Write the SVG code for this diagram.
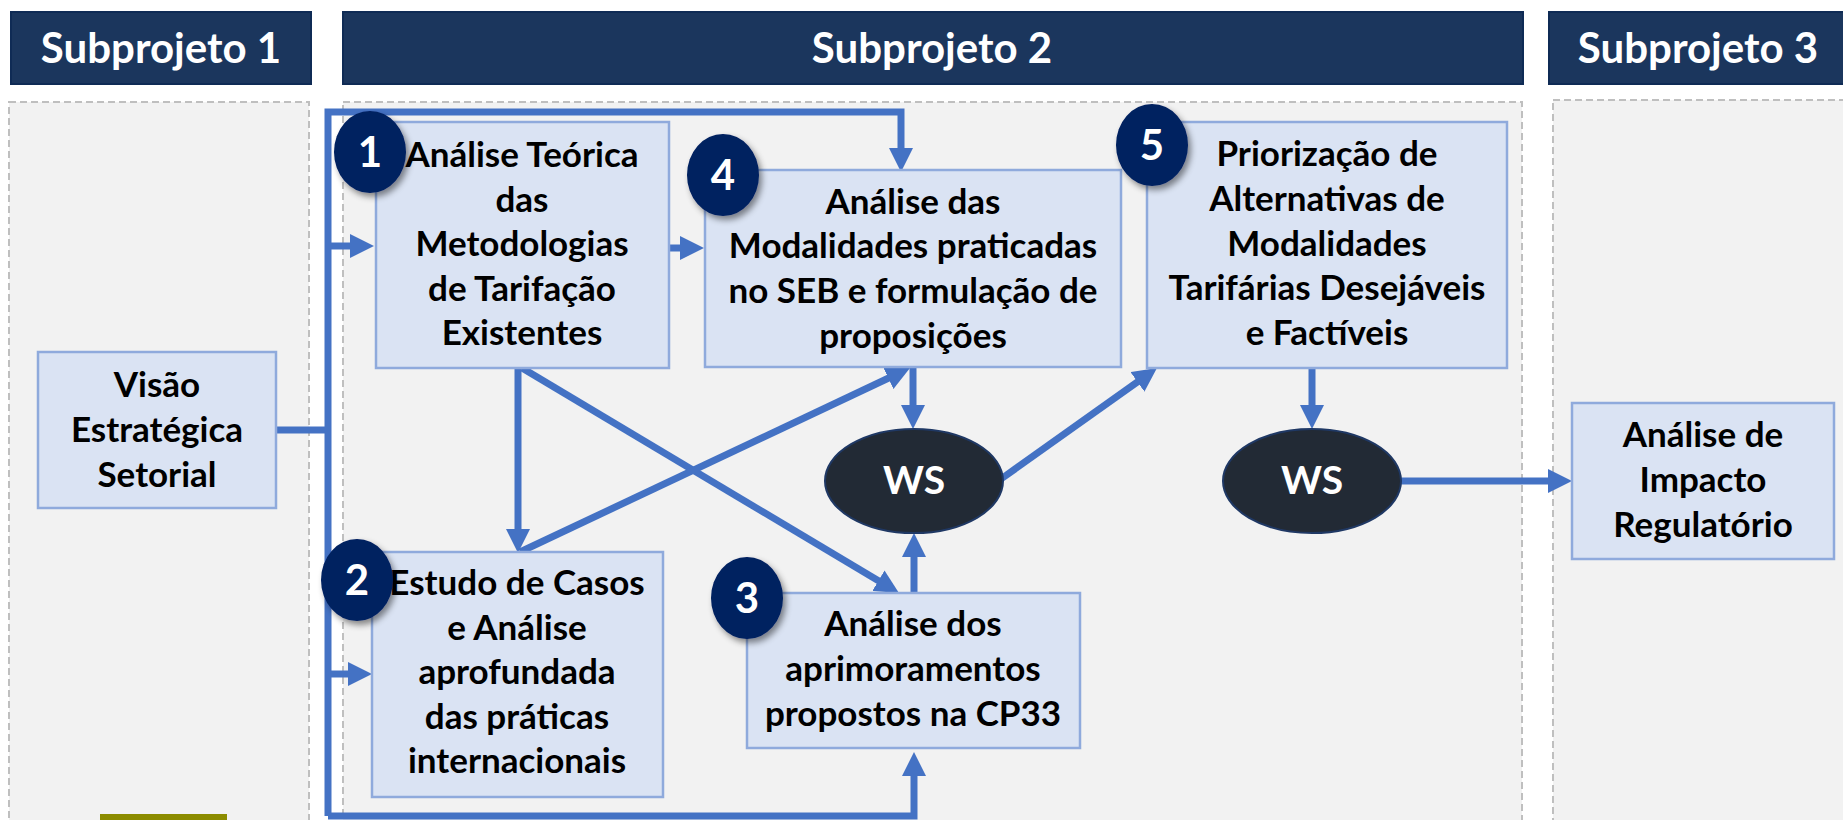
<svg xmlns="http://www.w3.org/2000/svg" width="1843" height="820" viewBox="0 0 1843 820">
<style>
.hdr{fill:#1b365d;stroke:#0f2b55;stroke-width:2}
.hdrt{font-family:Lato,"Liberation Sans",sans-serif;font-weight:bold;font-size:42px;fill:#fff;text-anchor:middle}
.pnl{fill:#f2f2f2;stroke:#bfbfbf;stroke-width:2;stroke-dasharray:7 4}
.box{fill:#dae3f3;stroke:#8faadc;stroke-width:2.5}
.bt{font-family:Lato,"Liberation Sans",sans-serif;font-weight:bold;font-size:35px;fill:#000;text-anchor:middle}
.ws{fill:#222a35;stroke:#1f3864;stroke-width:2}
.wst{font-family:Lato,"Liberation Sans",sans-serif;font-weight:bold;font-size:39px;fill:#fff;text-anchor:middle}
.badge{fill:#002060;filter:url(#sh)}
.bn{font-family:Lato,"Liberation Sans",sans-serif;font-weight:bold;font-size:42px;fill:#fff;text-anchor:middle}
.c{fill:none;stroke:#4472c4;stroke-width:7}
.ca{fill:none;stroke:#4472c4;stroke-width:7;marker-end:url(#arr)}
</style>
<defs>
<marker id="arr" markerUnits="userSpaceOnUse" markerWidth="24" markerHeight="24" refX="4" refY="12" orient="auto"><path d="M0,0 L24,12 L0,24 z" fill="#4472c4"/></marker>
<filter id="sh" x="-30%" y="-30%" width="170%" height="170%"><feDropShadow dx="3" dy="4" stdDeviation="3" flood-color="#000" flood-opacity="0.45"/></filter>
</defs>
<rect width="1843" height="820" fill="#fff"/>
<g id="headers">
<rect class="hdr" x="11" y="12" width="300" height="72"/>
<text class="hdrt" x="161" y="63">Subprojeto 1</text>
<rect class="hdr" x="343" y="12" width="1180" height="72"/>
<text class="hdrt" x="932" y="63">Subprojeto 2</text>
<rect class="hdr" x="1549" y="12" width="300" height="72"/>
<text class="hdrt" x="1698" y="63">Subprojeto 3</text>
</g>
<g id="panels">
<rect class="pnl" x="9" y="102" width="300" height="740"/>
<rect class="pnl" x="343" y="102" width="1179" height="740"/>
<rect class="pnl" x="1553" y="100" width="310" height="740"/>
<rect x="100" y="814" width="127" height="10" fill="#8c8c00"/>
</g>
<g id="connectors">
<path class="c" d="M276 430 H331"/>
<path class="ca" d="M328 816 V112 H901 V152"/>
<path class="ca" d="M328 816 H914 V772"/>
<path class="ca" d="M328 246 H354"/>
<path class="ca" d="M328 674 H352"/>
<path class="ca" d="M669 248 H684"/>
<path class="ca" d="M518 368 V533"/>
<path class="ca" d="M522 368 L881.8 582.8"/>
<path class="ca" d="M520 552 L891.9 376.5"/>
<path class="ca" d="M913 368 V409"/>
<path class="ca" d="M914 593 V553"/>
<path class="ca" d="M1001 479 L1140.7 379.6"/>
<path class="ca" d="M1312 368 V409"/>
<path class="ca" d="M1401 481 H1552"/>
</g>
<g id="visao">
<rect class="box" x="38" y="352" width="238" height="156"/>
<text class="bt" x="157" y="397">Visão</text>
<text class="bt" x="157" y="442">Estratégica</text>
<text class="bt" x="157" y="487">Setorial</text>
</g>
<g id="node1">
<rect class="box" x="376" y="122" width="293" height="246"/>
<text class="bt" x="522" y="167">Análise Teórica</text>
<text class="bt" x="522" y="211.6">das</text>
<text class="bt" x="522" y="256.2">Metodologias</text>
<text class="bt" x="522" y="300.8">de Tarifação</text>
<text class="bt" x="522" y="345.4">Existentes</text>
<ellipse class="badge" cx="370" cy="152" rx="36" ry="41"/>
<text class="bn" x="370" y="167">1</text>
</g>
<g id="node4">
<rect class="box" x="705" y="170" width="416" height="197"/>
<text class="bt" x="913" y="213.5">Análise das</text>
<text class="bt" x="913" y="258.3">Modalidades praticadas</text>
<text class="bt" x="913" y="303.1">no SEB e formulação de</text>
<text class="bt" x="913" y="347.9">proposições</text>
<ellipse class="badge" cx="723" cy="175" rx="36" ry="41"/>
<text class="bn" x="723" y="190">4</text>
</g>
<g id="node5">
<rect class="box" x="1147" y="122" width="360" height="246"/>
<text class="bt" x="1327" y="166">Priorização de</text>
<text class="bt" x="1327" y="210.8">Alternativas de</text>
<text class="bt" x="1327" y="255.6">Modalidades</text>
<text class="bt" x="1327" y="300.4">Tarifárias Desejáveis</text>
<text class="bt" x="1327" y="345.2">e Factíveis</text>
<ellipse class="badge" cx="1152" cy="145" rx="36" ry="41"/>
<text class="bn" x="1152" y="160">5</text>
</g>
<g id="node2">
<rect class="box" x="372" y="552" width="291" height="245"/>
<text class="bt" x="517" y="595">Estudo de Casos</text>
<text class="bt" x="517" y="639.6">e Análise</text>
<text class="bt" x="517" y="684.2">aprofundada</text>
<text class="bt" x="517" y="728.8">das práticas</text>
<text class="bt" x="517" y="773.4">internacionais</text>
<ellipse class="badge" cx="357" cy="580" rx="36" ry="41"/>
<text class="bn" x="357" y="595">2</text>
</g>
<g id="node3">
<rect class="box" x="747" y="593" width="333" height="155"/>
<text class="bt" x="913" y="636">Análise dos</text>
<text class="bt" x="913" y="681">aprimoramentos</text>
<text class="bt" x="913" y="726">propostos na CP33</text>
<ellipse class="badge" cx="747" cy="598" rx="36" ry="41"/>
<text class="bn" x="747" y="613">3</text>
</g>
<g id="ws1">
<ellipse class="ws" cx="914" cy="481" rx="89" ry="52"/>
<text class="wst" x="914" y="494">WS</text>
</g>
<g id="ws2">
<ellipse class="ws" cx="1312" cy="481" rx="89" ry="52"/>
<text class="wst" x="1312" y="494">WS</text>
</g>
<g id="impacto">
<rect class="box" x="1572" y="403" width="262" height="156"/>
<text class="bt" x="1703" y="447">Análise de</text>
<text class="bt" x="1703" y="492">Impacto</text>
<text class="bt" x="1703" y="537">Regulatório</text>
</g>
</svg>
